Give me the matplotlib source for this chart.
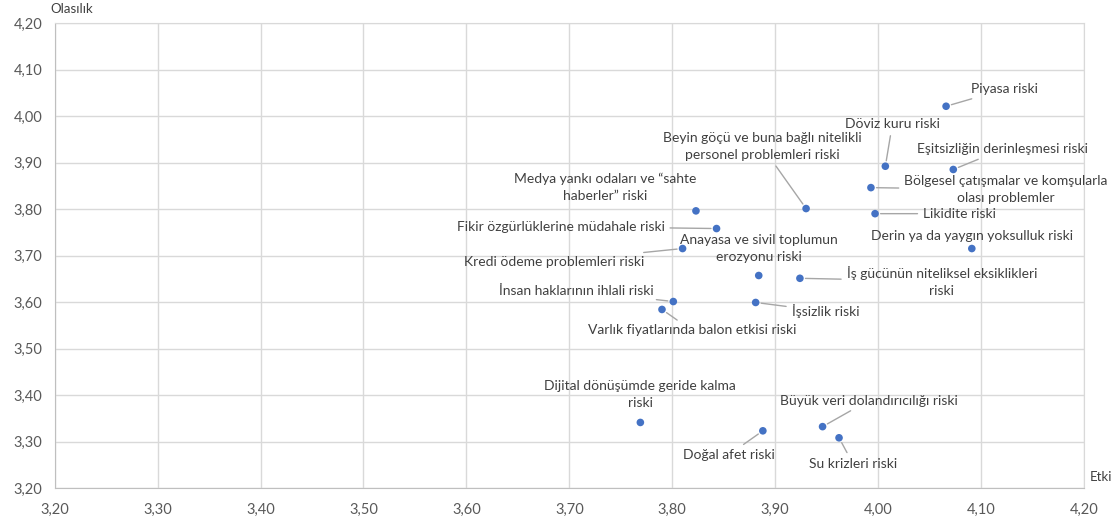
import matplotlib
matplotlib.use("Agg")
import matplotlib.pyplot as plt
from matplotlib.ticker import FixedLocator, FuncFormatter
import numpy as np

plt.rcParams['font.family'] = ['Lato', 'DejaVu Sans']

# risk labels and their scores (etki = impact, olasilik = probability)
labels = [
    'Piyasa riski',
    'Döviz kuru riski',
    'Eşitsizliğin derinleşmesi riski',
    'Bölgesel çatışmalar ve komşularla\nolası problemler',
    'Beyin göçü ve buna bağlı nitelikli\npersonel problemleri riski',
    'Likidite riski',
    'Medya yankı odaları ve “sahte\nhaberler” riski',
    'Fikir özgürlüklerine müdahale riski',
    'Anayasa ve sivil toplumun\nerozyonu riski',
    'Kredi ödeme problemleri riski',
    'Derin ya da yaygın yoksulluk riski',
    'İş gücünün niteliksel eksiklikleri\nriski',
    'İnsan haklarının ihlali riski',
    'İşsizlik riski',
    'Varlık fiyatlarında balon etkisi riski',
    'Dijital dönüşümde geride kalma\nriski',
    'Büyük veri dolandırıcılığı riski',
    'Doğal afet riski',
    'Su krizleri riski',
]
etki = [4.066, 4.007, 4.073, 3.993, 3.930, 3.997, 3.823, 3.843, 3.884, 3.810,
        4.091, 3.924, 3.801, 3.881, 3.790, 3.769, 3.946, 3.888, 3.962]
olasilik = [4.021, 3.892, 3.885, 3.846, 3.801, 3.790, 3.796, 3.758, 3.657, 3.715,
            3.715, 3.651, 3.601, 3.599, 3.584, 3.341, 3.332, 3.323, 3.308]

# label placement: offset in pixels from the dot, alignment, leader line
placement = [
    (25, 17, 'left', True),
    (7, 42, 'center', True),
    (49, 20, 'center', True),
    (135, -2, 'center', True),
    (-44, 62, 'center', True),
    (48, 0, 'left', True),
    (-91, 24, 'center', False),
    (-52, 2, 'right', True),
    (0, 27, 'center', False),
    (-38, -13, 'right', True),
    (0, 13, 'center', False),
    (142, -3, 'center', True),
    (-20, 11, 'right', True),
    (36, -9, 'left', True),
    (30, -21, 'center', True),
    (0, 28, 'center', False),
    (46, 26, 'center', True),
    (-34, -24, 'center', True),
    (14, -26, 'center', True),
]

ticks = np.round(np.arange(3.2, 4.21, 0.1), 2)

fig = plt.figure(figsize=(11.18, 5.23), dpi=100)
ax = fig.add_axes([0.0489, 0.0669, 0.9207, 0.8891])

ax.set_xlim(3.2, 4.2)
ax.set_ylim(3.2, 4.2)
ax.xaxis.set_major_locator(FixedLocator(ticks))
ax.yaxis.set_major_locator(FixedLocator(ticks))
fmt = FuncFormatter(lambda v, p: f'{v:.2f}'.replace('.', ','))
ax.xaxis.set_major_formatter(fmt)
ax.yaxis.set_major_formatter(fmt)
ax.grid(True, color='#d9d9d9', lw=1)
ax.set_axisbelow(True)
for s in ax.spines.values():
    s.set_color('#d9d9d9')
ax.spines['left'].set_color('#bfbfbf')
ax.spines['bottom'].set_color('#bfbfbf')
ax.tick_params(length=0, labelsize=10.5, colors='#595959')
ax.tick_params(axis='x', pad=11)
ax.tick_params(axis='y', pad=9)

ax.scatter(etki, olasilik, s=30, color='#4472C4', zorder=3, edgecolors='none')

for lab, x, y, (dx, dy, ha, line) in zip(labels, etki, olasilik, placement):
    arrow = dict(arrowstyle='-', color='#a6a6a6', lw=1, shrinkA=2, shrinkB=4) if line else None
    ax.annotate(lab, (x, y), xytext=(dx, dy), textcoords='offset pixels',
                ha=ha, va='center', multialignment='center', fontsize=10,
                color='#404040', arrowprops=arrow, linespacing=1.5)

fig.text(50 / 1118, 1 - 9 / 523, 'Olasılık', fontsize=9.5, color='#404040', va='center')
fig.text(1090 / 1118, 1 - 477 / 523, 'Etki', fontsize=9.5, color='#404040', va='center')

fig.savefig('out.png', dpi=100)
